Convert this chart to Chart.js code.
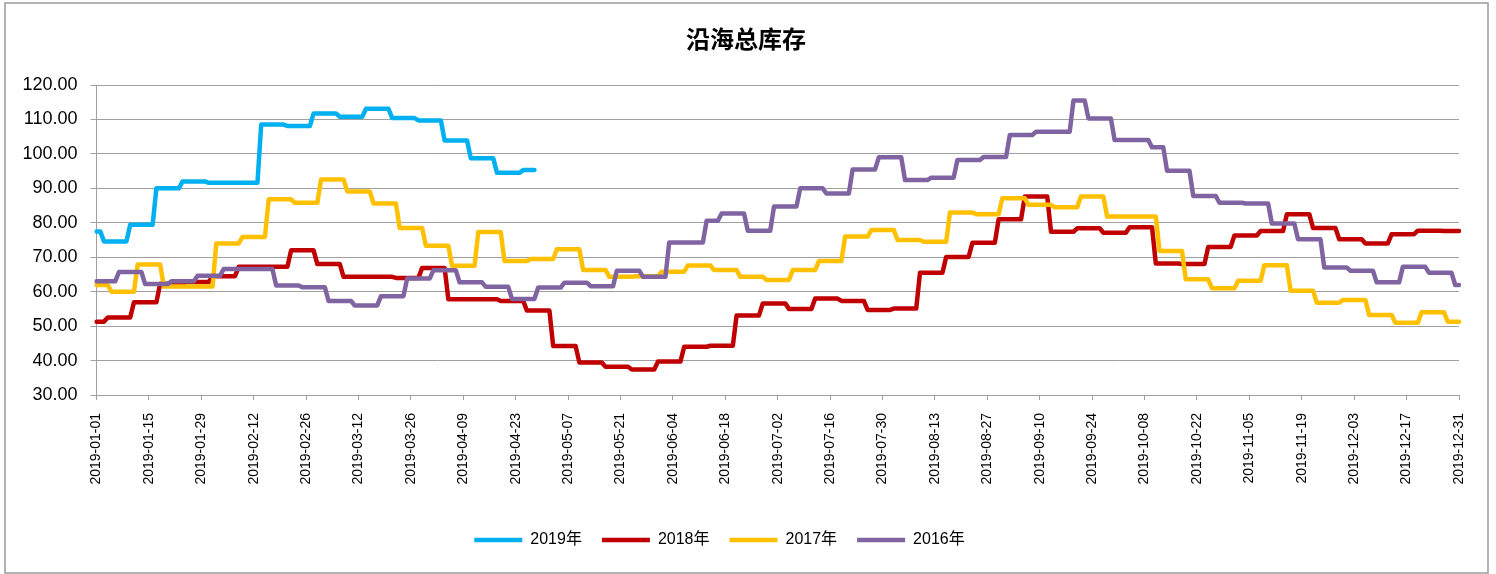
<!DOCTYPE html>
<html>
<head>
<meta charset="utf-8">
<script src="https://cdn.jsdelivr.net/npm/chart.js@4"></script>
<style>
  html, body { margin: 0; padding: 0; background: #fff; }
</style>
</head>
<body>
<canvas id="stock-chart" width="1496" height="574"></canvas>
<script>
// one point per day of 2019, weekly readings held until the next one
const startDate = '2019-01-01';
const dayCount = 365;
const labelEvery = 14;

const seriesNames = ['2019年', '2018年', '2017年', '2016年'];

// weekly levels, first change day, last day with data, mid-week changes
const stock2019 = [77.5, 74.6, 79.4, 90.0, 92.0, 91.6, 91.6, 108.5, 108.1, 111.7, 110.8, 113.1,
    110.4, 109.7, 103.9, 98.7, 94.5, 95.3];
const stock2019First = 2;
const stock2019Last = 117;

const stock2018 = [51.3, 52.5, 56.9, 62.3, 62.8, 64.5, 67.2, 67.2, 72.0, 68.0, 64.3, 64.3, 64.0,
    66.9, 57.8, 57.8, 57.3, 54.5, 44.2, 39.4, 38.2, 37.4, 39.7, 44.0, 44.3, 53.1, 56.6, 55.0,
    58.0, 57.3, 54.7, 55.1, 65.5, 70.1, 74.2, 81.0, 87.6, 77.4, 78.4, 77.1, 78.7, 68.2, 68.0,
    73.0, 76.3, 77.6, 82.5, 78.5, 75.2, 74.0, 76.7, 77.7, 77.6];
const stock2018First = 3;

const stock2017 = [61.9, 60.0, 67.9, 61.5, 61.5, 74.0, 75.9, 86.8, 85.8, 92.6, 89.1, 85.6, 78.5,
    73.3, 67.5, 77.3, 68.9, 69.5, 72.3, 66.3, 64.3, 64.5, 65.8, 67.6, 66.3, 64.3, 63.4, 66.3,
    68.9, 76.0, 77.9, 75.0, 74.5, 83.0, 82.5, 87.1, 85.2, 84.5, 87.6, 81.8, 81.8, 71.8, 63.6,
    61.0, 63.2, 67.7, 60.3, 56.8, 57.6, 53.2, 51.0, 54.0, 51.3];
const stock2017First = 4;

const stock2016 = [63.0, 65.7, 62.2, 63.0, 64.6, 66.6, 66.6, 61.8, 61.3, 57.3, 56.0, 58.7, 63.8,
    66.2, 62.7, 61.4, 57.9, 61.2, 62.6, 61.6, 66.1, 64.3, 74.3, 74.3, 82.7, 77.7, 84.7, 90.0,
    88.5, 95.5, 99.0, 92.4, 93.1, 98.2, 99.1, 105.5, 106.4, 106.4, 110.3, 104.0, 104.0, 95.1,
    87.8, 85.8, 85.6, 79.8, 75.2, 67.0, 66.1, 62.7, 67.2, 65.5, 61.9];
const stock2016First = 6;
const stock2016Breaks = { 163: 80.6, 261: 115.5, 282: 101.9 };

const yMin = 30;
const yMax = 120;
const yStep = 10;

const days = [];
for (let d = 0; d < dayCount; d++) {
    const t = new Date(startDate + 'T00:00:00Z');
    t.setUTCDate(t.getUTCDate() + d);
    days.push(t.toISOString().slice(0, 10));
}

function toDaily(weekly, firstChange, lastDay, breaks) {
    const out = [];
    let w = 0;
    let v = weekly[0];
    for (let d = 0; d < days.length; d++) {
        if (d >= firstChange && (d - firstChange) % 7 === 0) {
            w++;
            v = weekly[w];
        }
        if (breaks && breaks[d] !== undefined) v = breaks[d];
        out.push(d <= lastDay && v !== undefined ? v : null);
    }
    return out;
}

const borderBox = {
    id: 'borderBox',
    beforeDraw(chart) {
        const ctx = chart.ctx;
        ctx.save();
        ctx.fillStyle = '#ffffff';
        ctx.fillRect(0, 0, chart.width, chart.height);
        ctx.strokeStyle = '#9a9a9a';
        ctx.lineWidth = 1.5;
        ctx.strokeRect(5, 3, 1483, 570);
        ctx.restore();
    }
};

// title is centred on the whole frame, legend sits a little left of it
const boxShift = {
    id: 'boxShift',
    afterLayout(chart) {
        chart.titleBlock.left += 33;
        chart.legend.left -= 10;
        chart.legend.right -= 10;
    }
};

document.addEventListener('DOMContentLoaded', function () {
    Chart.defaults.font.family = '"Liberation Sans", "Noto Sans CJK SC", sans-serif';
    Chart.defaults.color = '#000';

    const line = (label, data, color, order) => ({
        label: label,
        data: data,
        borderColor: color,
        backgroundColor: color,
        borderWidth: 4.5,
        borderJoinStyle: 'round',
        borderCapStyle: 'round',
        pointRadius: 0,
        pointHoverRadius: 0,
        tension: 0,
        order: order
    });

    new Chart(document.getElementById('stock-chart'), {
        type: 'line',
        data: {
            labels: days,
            datasets: [
                line(seriesNames[0], toDaily(stock2019, stock2019First, stock2019Last), '#00B0F0', 4),
                line(seriesNames[1], toDaily(stock2018, stock2018First, dayCount), '#C00000', 3),
                line(seriesNames[2], toDaily(stock2017, stock2017First, dayCount), '#FFC000', 2),
                line(seriesNames[3], toDaily(stock2016, stock2016First, dayCount, stock2016Breaks), '#8064A2', 1)
            ]
        },
        plugins: [borderBox, boxShift],
        options: {
            responsive: false,
            animation: false,
            layout: {
                padding: { top: 0, left: 0, right: 37, bottom: 16 }
            },
            scales: {
                x: {
                    offset: false,
                    afterFit: (scale) => { scale.height = 117; },
                    grid: {
                        drawOnChartArea: false,
                        drawTicks: true,
                        tickLength: 5,
                        color: (ctx) => (ctx.index % labelEvery === 0 ? '#a0a0a0' : 'rgba(0,0,0,0)')
                    },
                    border: { display: true, color: '#a0a0a0' },
                    ticks: {
                        autoSkip: false,
                        minRotation: 90,
                        maxRotation: 90,
                        padding: 13,
                        color: '#000',
                        font: { size: 14 },
                        callback: function (value, index) {
                            return index % labelEvery === 0 ? this.getLabelForValue(value) : '';
                        }
                    }
                },
                y: {
                    min: yMin,
                    max: yMax,
                    afterFit: (scale) => { scale.width = 96.5; },
                    grid: {
                        color: '#a0a0a0',
                        lineWidth: 1,
                        tickLength: 6
                    },
                    border: { display: true, color: '#a0a0a0' },
                    ticks: {
                        stepSize: yStep,
                        padding: 13,
                        color: '#000',
                        font: { size: 18 },
                        callback: (v) => v.toFixed(2)
                    }
                }
            },
            plugins: {
                title: {
                    display: true,
                    text: '沿海总库存',
                    color: '#000',
                    font: { family: '"Noto Sans CJK SC", sans-serif', size: 24, weight: 'bold' },
                    padding: { top: 24.3, bottom: 31.9 }
                },
                legend: {
                    display: true,
                    position: 'bottom',
                    labels: {
                        usePointStyle: true,
                        pointStyle: 'line',
                        pointStyleWidth: 48,
                        padding: 20,
                        color: '#000',
                        font: { size: 16 },
                        sort: (a, b) => a.datasetIndex - b.datasetIndex
                    }
                },
                tooltip: { enabled: false }
            }
        }
    });
});
</script>
</body>
</html>
